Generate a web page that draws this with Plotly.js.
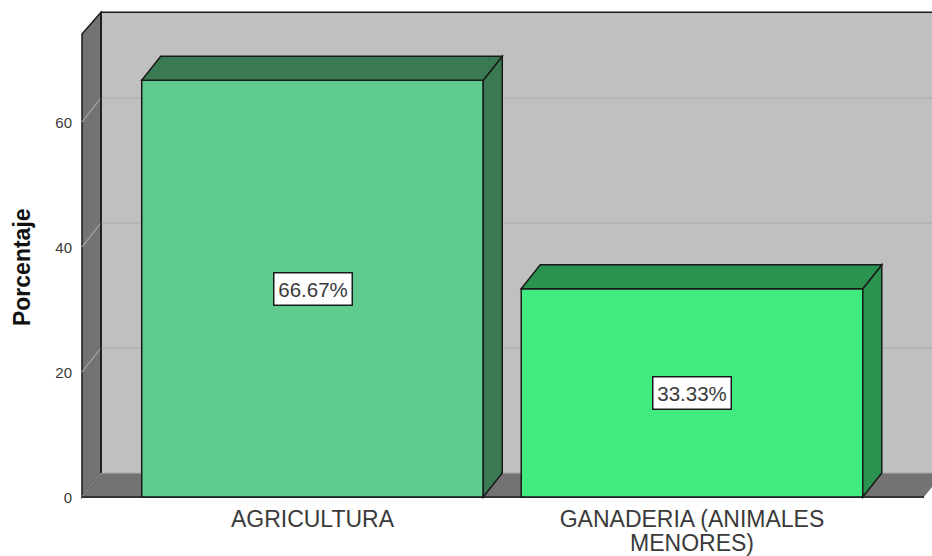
<!DOCTYPE html>
<html>
<head>
<meta charset="utf-8">
<script src="https://cdn.plot.ly/plotly-3.0.1.min.js"></script>
<style>html,body{margin:0;padding:0;background:#fff;overflow:hidden}</style>
</head>
<body>
<div id="chart" style="width:932px;height:556px"></div>
<script>
const categories = ["AGRICULTURA", "GANADERIA (ANIMALES<br>MENORES)"];
const values = [66.67, 33.33];
const labels = ["66.67%", "33.33%"];
const yTicks = [0, 20, 40, 60];
const frontColors = ["#5FCB8E", "#40EC80"];
const depthColors = ["#3A7A52", "#2A934F"];

const positions = categories.map((_, i) => i);
const barWidth = 0.9;
const dx = 19 / 379.5;   // depth of the fake 3-D box in axis units
const dy = 24 / 6.25;
const yMax = 74.08;
const yBack = 77.55;
const xLo = -0.6179, xHi = 1.6324;
const floorEnd = 1.6113;
const black = "#1a1a1a";
const font = "Liberation Sans, Arial, sans-serif";

function poly(pts, fill, line, layer) {
  return {
    type: "path", xref: "x", yref: "y", layer: layer || "below",
    path: pts.map((p, i) => (i ? "L" : "M") + p[0] + "," + p[1]).join(" ") + " Z",
    fillcolor: fill,
    line: line ? {color: black, width: 1.5} : {width: 0}
  };
}
function seg(x0, y0, x1, y1, color, width, layer) {
  return {type: "line", xref: "x", yref: "y", layer: layer || "below", x0, y0, x1, y1,
          line: {color, width}};
}

const wallL = xLo + 4 / 379.5;
const shapes = [];
shapes.push(poly([[wallL + dx, dy], [floorEnd + 2 * dx, dy], [floorEnd + 2 * dx, yBack], [wallL + dx, yBack]], "#C0C0C0", false));
shapes.push(poly([[wallL, 0], [floorEnd, 0], [floorEnd + dx, dy], [wallL + dx, dy]], "#737373", false));
shapes.push(poly([[wallL, 0], [wallL + dx, dy], [wallL + dx, yBack], [wallL, yMax]], "#737373", true));
yTicks.forEach(t => {
  shapes.push(seg(wallL + dx, t + dy, xHi, t + dy, "#ABABAB", 1));
  shapes.push(seg(wallL, t, wallL + dx, t + dy, "#ABABAB", 1.2));
});
shapes.push(seg(wallL + dx, yBack, xHi, yBack, black, 1.5));
shapes.push(seg(wallL + dx, dy, wallL + dx, yBack, black, 1.5));
shapes.push(seg(wallL, 0, floorEnd, 0, "#333333", 2));

positions.forEach((x, i) => {
  const l = x - barWidth / 2, r = x + barWidth / 2, v = values[i];
  shapes.push(poly([[r, 0], [r + dx, dy], [r + dx, v + dy], [r, v]], depthColors[i], true, "above"));
  shapes.push(poly([[l, v], [r, v], [r + dx, v + dy], [l + dx, v + dy]], depthColors[i], true, "above"));
});

const annotations = positions.map((x, i) => ({
  x, y: values[i] / 2, xref: "x", yref: "y", text: labels[i], showarrow: false,
  bgcolor: "#FFFFFF", bordercolor: black, borderwidth: 1.5, borderpad: 0,
  width: 77, height: 31,
  font: {family: font, size: 20.5, color: "#3a3a3a"}
}));
annotations.push({
  x: -0.0656, y: 0.4735, xref: "paper", yref: "paper", text: "Porcentaje", showarrow: false,
  textangle: -90, xanchor: "center", yanchor: "middle",
  font: {family: font, size: 23, color: "#111111", weight: 700}
});

const trace = {
  type: "bar", x: positions, y: values, width: barWidth,
  marker: {color: frontColors, line: {color: black, width: 1.5}},
  hoverinfo: "x+y"
};

const layout = {
  width: 932, height: 556, showlegend: false,
  margin: {l: 78, r: 0, t: 8, b: 56, pad: 0},
  paper_bgcolor: "#FFFFFF", plot_bgcolor: "#FFFFFF",
  xaxis: {
    range: [xLo, xHi], tickvals: positions, ticktext: categories,
    showgrid: false, zeroline: false, showline: false, ticks: "",
    ticklabelstandoff: 3,
    tickfont: {family: font, size: 23, color: "#3a3a3a"},
    automargin: false
  },
  yaxis: {
    range: [-0.48, 78.24], tickvals: yTicks, ticktext: yTicks.map(String),
    showgrid: false, zeroline: false, showline: false, ticks: "",
    ticklabelstandoff: 5, ticklabelshift: 1,
    tickfont: {family: font, size: 15, color: "#3a3a3a"},
    automargin: false
  },
  shapes, annotations
};

Plotly.newPlot("chart", [trace], layout, {displayModeBar: false, staticPlot: true}).then(() => {
  // the original's wrapped category label has tight line spacing
  document.querySelectorAll(".xtick text tspan.line").forEach(t => {
    if (parseFloat(t.getAttribute("dy")) > 0) t.setAttribute("dy", "1.03em");
  });
});
</script>
</body>
</html>
